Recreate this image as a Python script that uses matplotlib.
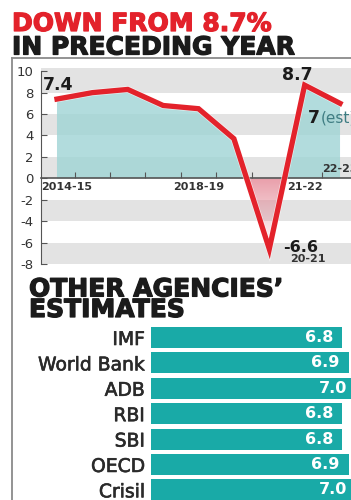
import numpy as np
import matplotlib.pyplot as plt
import matplotlib.patheffects as pe
from matplotlib.lines import Line2D

# GDP growth, %
years = ['2014-15', '2015-16', '2016-17', '2017-18', '2018-19',
         '2019-20', '2020-21', '2021-22', '2022-23']
growth = [7.4, 8.0, 8.3, 6.8, 6.5, 3.7, -6.6, 8.7, 7.0]

# other agencies' estimates for 2022-23
agencies = ['IMF', 'World Bank', 'ADB', 'RBI', 'SBI', 'OECD', 'Crisil']
estimates = [6.8, 6.9, 7.0, 6.8, 6.8, 6.9, 7.0]

yticks = [-8, -6, -4, -2, 0, 2, 4, 6, 8, 10]

red = '#e3222b'
dark = '#1b1b1b'
grey_txt = '#333333'
teal = '#19aaa7'

fig = plt.figure(figsize=(3.51, 5.0), dpi=100)
fig.patch.set_facecolor('white')

# frame
fig.add_artist(Line2D([12/351, 12/351], [0, 1 - 58/500], color='#8a8a8a', lw=1.3))
fig.add_artist(Line2D([12/351, 1], [1 - 58/500, 1 - 58/500], color='#8a8a8a', lw=1.3))

t1 = fig.text(12/351, 1 - 31/500, 'DOWN FROM 8.7%', color=red, fontsize=18,
              fontweight='bold', va='baseline', ha='left')
t1.set_path_effects([pe.withStroke(linewidth=0.9, foreground=red)])
t2 = fig.text(12/351, 1 - 54.5/500, 'IN PRECEDING YEAR', color=dark, fontsize=18,
              fontweight='bold', va='baseline', ha='left')
t2.set_path_effects([pe.withStroke(linewidth=0.9, foreground=dark)])

# ---- line chart
ax = fig.add_axes([41/351, 1 - 264/500, 310/351, (264 - 68)/500])
ax.set_xlim(-0.452, 8.31)
ax.set_ylim(-8, 10.3)
for lo in range(-8, 10, 4):
    ax.axhspan(lo, lo + 2, color='#e3e3e3', lw=0, zorder=0)
ax.axhspan(8, 10.3, color='#e3e3e3', lw=0, zorder=0)

x = list(range(len(growth)))
ax.fill_between(x, growth, 0, where=[g >= 0 for g in growth], interpolate=True,
                color='#9fd4d5', alpha=0.8, lw=0, zorder=1)
neg = ax.fill_between(x, growth, 0, where=[g <= 0 for g in growth], interpolate=True,
                      color='none', lw=0, zorder=1)
# pink fill fading out downwards
grad = np.zeros((100, 1, 4))
grad[..., 0], grad[..., 1], grad[..., 2] = 0.89, 0.50, 0.56
grad[..., 3] = np.linspace(0.75, 0.0, 100)[:, None]
im = ax.imshow(grad, extent=(5, 7, min(growth), 0), origin='upper',
               aspect='auto', zorder=1)
im.set_clip_path(neg.get_paths()[0], transform=ax.transData)
ax.plot(x, growth, color=red, lw=3.8, solid_joinstyle='miter', zorder=4,
        path_effects=[pe.Stroke(linewidth=4.8, foreground='white', alpha=0.6), pe.Normal()])

for s in ['top', 'right']:
    ax.spines[s].set_visible(False)
ax.spines['left'].set_bounds(-8, 10)
ax.spines['left'].set_color('#555555')
ax.spines['bottom'].set_position(('data', 0))
ax.spines['bottom'].set_color('#555555')
ax.spines['bottom'].set_linewidth(1.2)
ax.spines['bottom'].set_zorder(2)
ax.set_yticks(yticks)
ax.set_yticklabels([str(v) for v in yticks])
ax.tick_params(axis='y', direction='in', length=4, color='#555555', pad=5.5,
               labelsize=9.5, labelcolor=grey_txt)
ax.set_xticks([i + 0.5 for i in range(len(years) - 1)])
ax.set_xticklabels([])
ax.tick_params(axis='x', direction='in', length=4, color='#555555')

lab = dict(fontsize=8, fontweight='bold', color=grey_txt)
ax.text(-0.45, -0.35, years[0], ha='left', va='top', **lab)
ax.text(4, -0.35, years[4], ha='center', va='top', **lab)
ax.text(7, -0.35, years[7][2:], ha='center', va='top', **lab)
ax.text(8, 0.55, years[8][2:], ha='center', va='baseline', clip_on=True, **lab)
ax.text(7.1, -7.55, years[6][2:], ha='center', va='center', **lab)

val = dict(fontsize=12.5, fontweight='bold', color=dark, va='baseline', ha='left')
ax.text(-0.4, 8.2, f'{growth[0]:.1f}', **val)
ax.text(6.36, 9.15, f'{growth[7]:.1f}', **val)
ax.text(6.38, -6.85, f'{growth[6]:.1f}', fontsize=11.5, fontweight='bold',
        color=dark, va='baseline', ha='left')
ax.text(7.09, 5.2, f'{growth[8]:.0f}', **val)
ax.text(7.46, 5.2, '(est)', fontsize=11, color='#3f7d83', va='baseline', ha='left',
        clip_on=True)

# ---- agencies
t3 = fig.text(29/351, 1 - 317/500, 'OTHER AGENCIES\u2019\nESTIMATES', color=dark,
              fontsize=18, fontweight='bold', va='baseline', ha='left',
              linespacing=0.82)
t3.set_path_effects([pe.withStroke(linewidth=0.9, foreground=dark)])

bx = fig.add_axes([151/351, 0, 200/351, 1 - 324.8/500])
rows = list(range(len(agencies)))
bx.barh(rows, estimates, height=0.83, color=teal)
bx.set_xlim(4.07, 6.93)
bx.set_ylim(6.4, -0.5)
for s in bx.spines.values():
    s.set_visible(False)
bx.set_xticks([])
bx.set_yticks(rows)
bx.set_yticklabels(agencies, fontsize=13.5, color='#2a2a2a')
for t in bx.get_yticklabels():
    t.set_path_effects([pe.withStroke(linewidth=0.45, foreground='#2a2a2a')])
bx.tick_params(axis='y', length=0, pad=4.3)
for r, v in zip(rows, estimates):
    bx.annotate(f'{v:.1f}', (v, r), xytext=(-6.5, 0), textcoords='offset points',
                ha='right', va='center', color='white', fontsize=11.5,
                fontweight='bold', annotation_clip=False)

fig.savefig('out.png', dpi=100)
